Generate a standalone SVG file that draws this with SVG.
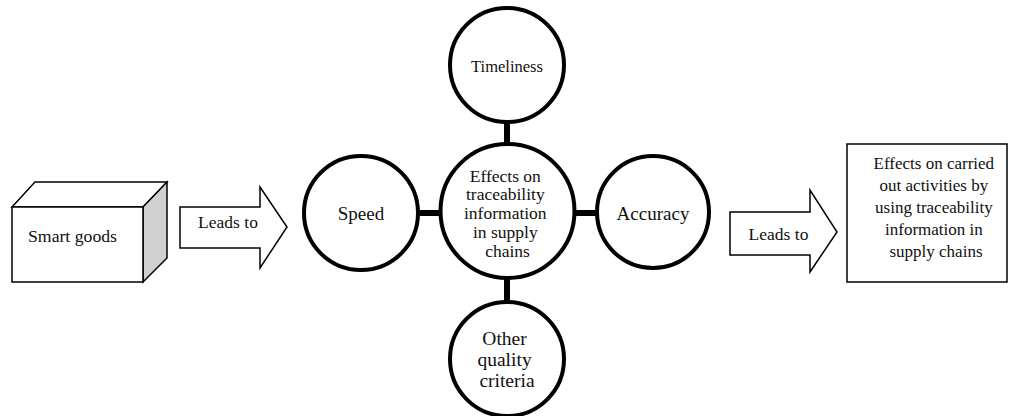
<svg xmlns="http://www.w3.org/2000/svg" width="1016" height="416" viewBox="0 0 1016 416">
<style>
  text, tspan { font-family: "Liberation Serif", "Times New Roman", serif; fill: #111; text-anchor: middle; }
  .ring { fill: #fff; stroke: #000; stroke-width: 4; }
  .thin { fill: #fff; stroke: #000; stroke-width: 1.5; stroke-linejoin: miter; }
  .bar { stroke: #000; stroke-width: 6; fill: none; }
</style>
<rect width="1016" height="416" fill="#fff"/>
<g id="connectors">
  <line class="bar" x1="507" y1="120" x2="507" y2="146"/>
  <line class="bar" x1="416" y1="213" x2="442" y2="213"/>
  <line class="bar" x1="573" y1="213" x2="599" y2="213"/>
  <line class="bar" x1="507" y1="276" x2="507" y2="304"/>
</g>
<g id="smart-goods">
  <polygon class="thin" points="12,207 35,182 167,182 143,207"/>
  <polygon class="thin" points="143,207 167,182 167,258 143,282" style="fill:#d0d0d0"/>
  <rect class="thin" x="12" y="207" width="131" height="75"/>
  <text x="72.5" y="242" font-family="Liberation Serif, serif" font-size="17.7">Smart goods</text>
</g>
<g id="leads-to-1">
  <polygon class="thin" points="180,207 260,207 260,187 287,227 260,268 260,248 180,248"/>
  <text x="228" y="228" font-family="Liberation Serif, serif" font-size="17.5">Leads to</text>
</g>
<g id="timeliness">
  <circle class="ring" cx="507" cy="65" r="57"/>
  <text x="507" y="72" font-family="Liberation Serif, serif" font-size="16.5">Timeliness</text>
</g>
<g id="speed">
  <circle class="ring" cx="361" cy="213" r="57"/>
  <text x="361" y="220" font-family="Liberation Serif, serif" font-size="19">Speed</text>
</g>
<g id="center">
  <circle class="ring" cx="507.5" cy="211" r="67"/>
  <text font-family="Liberation Serif, serif" font-size="17.5">
    <tspan x="507.5" y="182">Effects on</tspan>
    <tspan x="507.5" y="200">traceability</tspan>
    <tspan x="507.5" y="219">information</tspan>
    <tspan x="507.5" y="238">in supply</tspan>
    <tspan x="507.5" y="257">chains</tspan>
  </text>
</g>
<g id="accuracy">
  <circle class="ring" cx="653" cy="212" r="56"/>
  <text x="653" y="220" font-family="Liberation Serif, serif" font-size="19">Accuracy</text>
</g>
<g id="other">
  <circle class="ring" cx="507" cy="359" r="57"/>
  <text font-family="Liberation Serif, serif" font-size="19.5">
    <tspan x="507" y="345">Other</tspan>
    <tspan x="507" y="366">quality</tspan>
    <tspan x="507" y="387">criteria</tspan>
  </text>
</g>
<g id="leads-to-2">
  <polygon class="thin" points="730,212 810,212 810,190 837,232 810,272 810,255 730,255"/>
  <text x="778.5" y="240" font-family="Liberation Serif, serif" font-size="17.5">Leads to</text>
</g>
<g id="effects-box">
  <rect class="thin" x="847" y="144" width="160" height="138"/>
  <text font-family="Liberation Serif, serif" font-size="17">
    <tspan x="936" y="169">Effects on carried</tspan>
    <tspan x="936" y="191">out activities by</tspan>
    <tspan x="936" y="213">using traceability</tspan>
    <tspan x="936" y="235">information in</tspan>
    <tspan x="936" y="257">supply chains</tspan>
  </text>
</g>
</svg>
